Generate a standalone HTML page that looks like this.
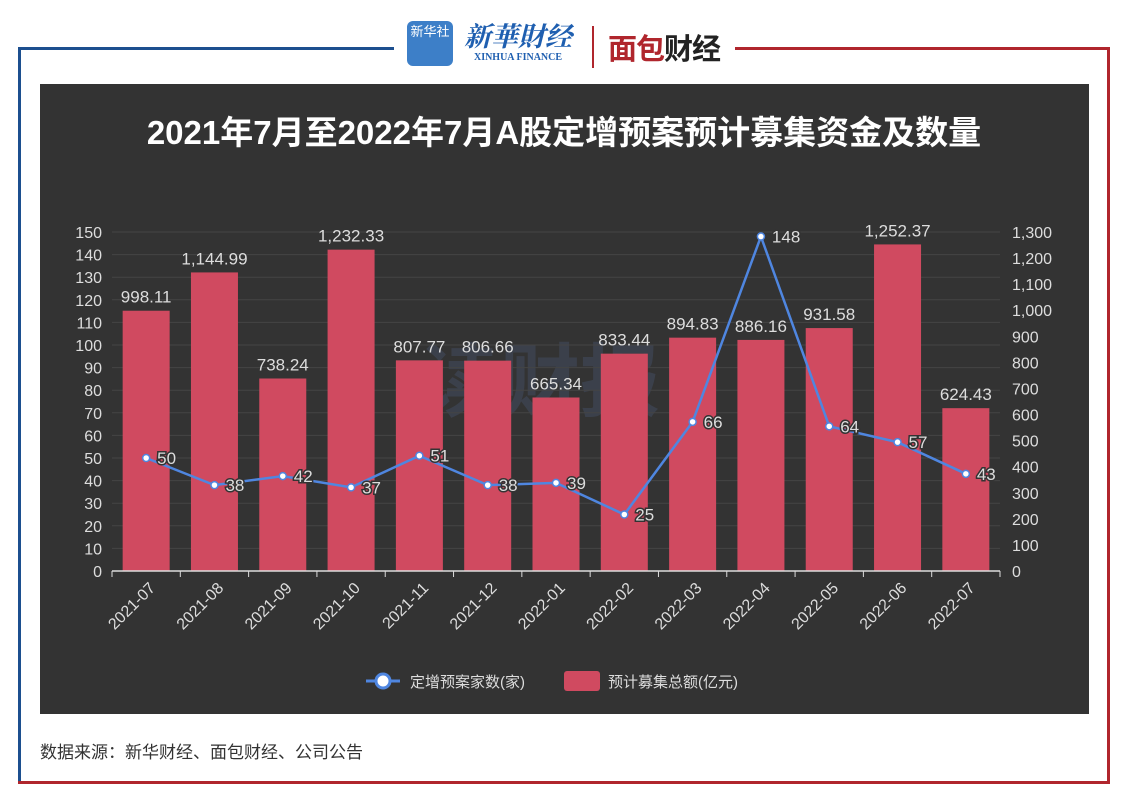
<!DOCTYPE html>
<html><head><meta charset="utf-8">
<style>
body{margin:0;width:1128px;height:802px;background:#fff;font-family:"Liberation Sans","Noto Sans CJK SC",sans-serif;position:relative;overflow:hidden}
.abs{position:absolute}
</style></head><body>
<div class="abs" style="left:18px;top:47px;width:376px;height:3px;background:#1c4f8f"></div>
<div class="abs" style="left:18px;top:47px;width:3px;height:737px;background:#1c4f8f"></div>
<div class="abs" style="left:735px;top:47px;width:375px;height:3px;background:#b0262d"></div>
<div class="abs" style="left:1107px;top:47px;width:3px;height:737px;background:#b0262d"></div>
<div class="abs" style="left:18px;top:781px;width:1092px;height:3px;background:#b0262d"></div>
<div class="abs" style="left:407px;top:21px;width:46px;height:45px;background:#3d7fc8;border-radius:6px;color:#fff;font-size:13px;text-align:center;line-height:22px">新华社</div>
<div class="abs" style="left:462px;top:18px;width:112px;height:50px;color:#1f5fb0;text-align:center"><div style="font-size:27px;font-style:italic;font-weight:bold;font-family:'Noto Serif CJK SC',serif;line-height:34px">新華財经</div><div style="font-size:10px;font-weight:bold;font-family:'Liberation Serif',serif">XINHUA FINANCE</div></div>
<div class="abs" style="left:592px;top:26px;width:2px;height:42px;background:#b0262d"></div>
<div class="abs" style="left:608px;top:26px;font-size:29px;font-weight:bold;color:#b0262d;letter-spacing:-1px">面包<span style="color:#222">财经</span></div>
<svg class="abs" style="left:0;top:0" width="1128" height="802" id="chart">
<rect x="40" y="84" width="1049" height="630" fill="#333333"/>
<text x="564" y="144" text-anchor="middle" font-size="33" font-weight="bold" fill="#fff">2021年7月至2022年7月A股定增预案预计募集资金及数量</text>
<text x="540" y="410" text-anchor="middle" font-size="80" font-weight="bold" fill="#4a5a7a" opacity="0.35">读财报</text>
<g id="grid"></g><g id="bars"></g><g id="line"></g><g id="axes"></g>
<g>
<line x1="366" y1="681" x2="400" y2="681" stroke="#4f86e0" stroke-width="3"/>
<circle cx="383" cy="681" r="7" fill="#fff" stroke="#4f86e0" stroke-width="3"/>
<text x="410" y="687" font-size="15" fill="#ddd">定增预案家数(家)</text>
<rect x="564" y="671" width="36" height="20" rx="3" fill="#d04a60"/>
<text x="608" y="687" font-size="15" fill="#ddd">预计募集总额(亿元)</text>
</g>
</svg>
<div class="abs" style="left:40px;top:738px;font-size:17px;color:#333">数据来源：新华财经、面包财经、公司公告</div>
<script>
const categories=["2021-07","2021-08","2021-09","2021-10","2021-11","2021-12","2022-01","2022-02","2022-03","2022-04","2022-05","2022-06","2022-07"];
const amounts=[998.11,1144.99,738.24,1232.33,807.77,806.66,665.34,833.44,894.83,886.16,931.58,1252.37,624.43];
const counts=[50,38,42,37,51,38,39,25,66,148,64,57,43];
const leftTicks=[0,10,20,30,40,50,60,70,80,90,100,110,120,130,140,150];
const rightTicks=[0,100,200,300,400,500,600,700,800,900,1000,1100,1200,1300];
const NS="http://www.w3.org/2000/svg";
const x0=112,x1=1000,y0=571,yTop=232;
const band=(x1-x0)/categories.length;
const xC=i=>x0+band*(i+0.5);
const yL=v=>y0-(v/150)*(y0-yTop);
const yR=v=>y0-(v/1300)*(y0-yTop);
const fmt=v=>v.toLocaleString('en-US',{minimumFractionDigits:2,maximumFractionDigits:2});
function mk(tag,attrs,parent,text){const e=document.createElementNS(NS,tag);for(const k in attrs)e.setAttribute(k,attrs[k]);if(text!=null)e.textContent=text;document.getElementById(parent).appendChild(e);return e;}
leftTicks.forEach(t=>{
 if(t>0){const g=mk('line',{x1:x0,x2:x1,y1:yL(t),y2:yL(t),stroke:'#444',"stroke-width":1},'grid');
 
 }
 const l=mk('text',{x:102,y:yL(t)+6,"text-anchor":"end","font-size":16,fill:"#ddd"},'axes',t);
 
 
});
rightTicks.forEach(t=>{
 const l=mk('text',{x:1012,y:yR(t)+6,"font-size":16,fill:"#ddd"},'axes',t.toLocaleString('en-US'));
 
 
});
const ax=mk('line',{x1:x0,x2:x1,y1:y0,y2:y0,stroke:'#ddd',"stroke-width":1.5},'axes');


for(let i=0;i<=categories.length;i++){
 const tk=mk('line',{x1:x0+band*i,x2:x0+band*i,y1:y0,y2:y0+6,stroke:'#ddd'},'axes');
 
 
}
categories.forEach((c,i)=>{
 const t=mk('text',{x:0,y:0,"font-size":16,fill:"#ddd","text-anchor":"end",transform:`translate(${xC(i)+10},${y0+18}) rotate(-45)`},'axes',c);
 
 
 const bw=47;
 const b=mk('rect',{x:xC(i)-bw/2,y:yR(amounts[i]),width:bw,height:y0-yR(amounts[i]),fill:'#d04a60'},'bars');
 
 
 const bl=mk('text',{x:xC(i),y:yR(amounts[i])-8,"text-anchor":"middle","font-size":17,fill:"#ddd"},'bars',fmt(amounts[i]));
 
 
});
const pts=counts.map((v,i)=>xC(i)+','+yL(v)).join(' ');
const pl=mk('polyline',{points:pts,fill:'none',stroke:'#4f86e0',"stroke-width":2.5},'line');


counts.forEach((v,i)=>{
 const c=mk('circle',{cx:xC(i),cy:yL(v),r:3.5,fill:'#fff',stroke:'#4f86e0',"stroke-width":1.5},'line');
 
 
 const t=mk('text',{x:xC(i)+11,y:yL(v)+6,"font-size":17,fill:"#ddd",stroke:"#333","stroke-width":3,"paint-order":"stroke"},'line',v);
 
 
});
</script>
</body></html>
